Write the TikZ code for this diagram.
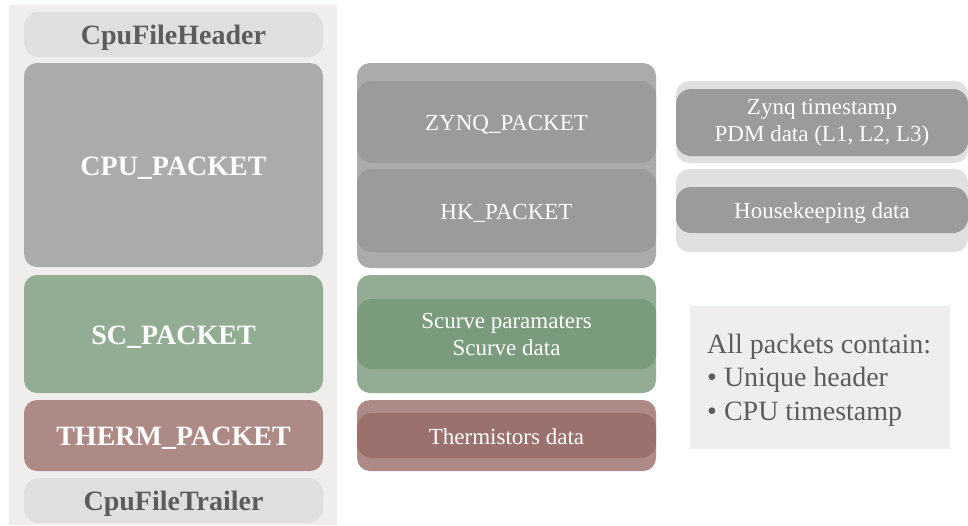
\documentclass[tikz,border=0pt]{standalone}
\usepackage{fontspec}
\setmainfont{Liberation Serif}
\definecolor{panelbg}{HTML}{EFEEED}
\definecolor{capbg}{HTML}{E0DFDD}
\definecolor{captext}{HTML}{5C5C5C}
\definecolor{cpugray}{HTML}{ABABAB}
\definecolor{innergray}{HTML}{9B9B9B}
\definecolor{scgreen}{HTML}{93AD95}
\definecolor{scinner}{HTML}{7A9C7C}
\definecolor{thred}{HTML}{AD8A86}
\definecolor{thinner}{HTML}{9B716D}
\definecolor{lightbox}{HTML}{E0E0E0}
\tikzset{
  blk/.style={rectangle, rounded corners=13pt, draw=none, inner sep=0pt, align=center},
  bigline/.style={text height=22pt, text depth=2pt},
  smallline/.style={text height=19pt, text depth=2pt},
  bigtxt/.style={font=\fontsize{28}{32}\selectfont\bfseries, text=white},
  captxt/.style={font=\fontsize{28}{32}\selectfont\bfseries, text=captext},
  smalltxt/.style={font=\fontsize{23}{27}\selectfont, text=white},
}
\begin{document}
\begin{tikzpicture}[x=1pt,y=-1pt]
\useasboundingbox (0,0) rectangle (968,525);
% left panel
\node[rectangle, fill=panelbg, minimum width=328pt, minimum height=520pt, inner sep=0pt] (panel) at (173,265) {};
\node[blk, fill=capbg, captxt, bigline, minimum width=299pt, minimum height=45pt, rounded corners=15pt] (header) at (173.5,34.5) {CpuFileHeader};
\node[blk, fill=cpugray, bigtxt, bigline, minimum width=299pt, minimum height=204pt] (cpu) at (173.5,165) {CPU\_PACKET};
\node[blk, fill=scgreen, bigtxt, bigline, minimum width=299pt, minimum height=118pt] (sc) at (173.5,334) {SC\_PACKET};
\node[blk, fill=thred, bigtxt, bigline, minimum width=299pt, minimum height=71pt] (therm) at (173.5,435.5) {THERM\_PACKET};
\node[blk, fill=capbg, captxt, bigline, minimum width=299pt, minimum height=45pt, rounded corners=15pt] (trailer) at (173.5,500.5) {CpuFileTrailer};
% middle column
\node[blk, fill=cpugray, minimum width=299pt, minimum height=205pt] (cpuout) at (506.5,165.5) {};
\node[blk, fill=innergray, smalltxt, smallline, minimum width=299pt, minimum height=82pt, rounded corners=15pt] (zynq) at (506.5,122) {ZYNQ\_PACKET};
\node[blk, fill=innergray, smalltxt, smallline, minimum width=299pt, minimum height=83pt, rounded corners=15pt] (hk) at (506.5,210.5) {HK\_PACKET};
\node[blk, fill=scgreen, minimum width=299pt, minimum height=118pt] (scout) at (506.5,334) {};
\node[blk, fill=scinner, smalltxt, minimum width=299pt, minimum height=70pt, rounded corners=15pt] (scin) at (506.5,334) {Scurve paramaters\\Scurve data};
\node[blk, fill=thred, minimum width=299pt, minimum height=71pt] (thout) at (506.5,435.5) {};
\node[blk, fill=thinner, smalltxt, smallline, minimum width=299pt, minimum height=45pt, rounded corners=15pt] (thin) at (506.5,435.5) {Thermistors data};
% right column
\node[blk, fill=lightbox, minimum width=292pt, minimum height=82pt] (zout) at (822,122) {};
\node[blk, fill=innergray, smalltxt, minimum width=292pt, minimum height=67pt, rounded corners=15pt] (zin) at (822,122.5) {Zynq timestamp\\PDM data (L1, L2, L3)};
\node[blk, fill=lightbox, minimum width=292pt, minimum height=83pt] (hout) at (822,210.5) {};
\node[blk, fill=innergray, smalltxt, smallline, minimum width=292pt, minimum height=46pt, rounded corners=15pt] (hin) at (822,210) {Housekeeping data};
% info box
\node[rectangle, fill=panelbg, minimum width=260pt, minimum height=143pt, inner sep=0pt] (info) at (820,377.5) {};
\node[anchor=west, text=captext, font=\fontsize{28}{33.5}\selectfont, align=left, inner sep=0pt] (infotext) at (707,380) {All packets contain:\\\textbullet\ Unique header\\\textbullet\ CPU timestamp};
\end{tikzpicture}
\end{document}
